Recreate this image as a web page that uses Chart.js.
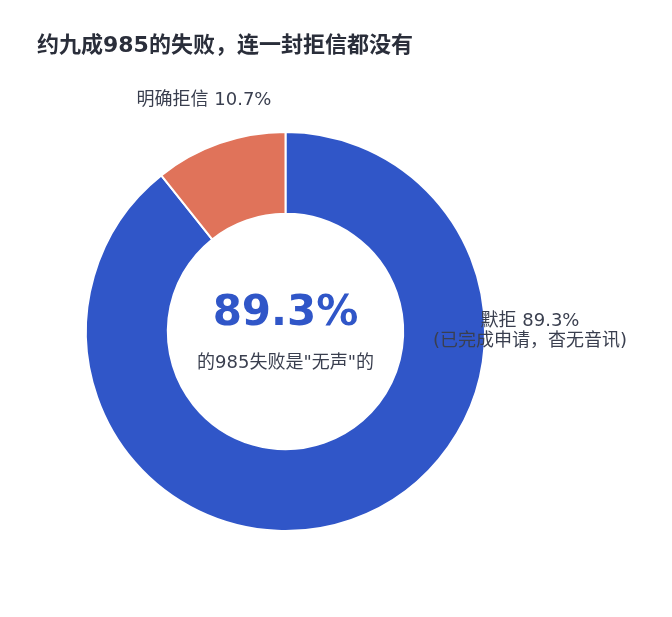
<!DOCTYPE html>
<html>
<head>
<meta charset="utf-8">
<script src="https://cdn.jsdelivr.net/npm/chart.js@4"></script>
<style>
  html, body { margin: 0; padding: 0; background: #ffffff; }
  #wrap { width: 672px; height: 617px; }
</style>
</head>
<body>
<div id="wrap"><canvas id="c" width="672" height="617"></canvas></div>
<script>
const chartTitle = '约九成985的失败，连一封拒信都没有';
const categories = ['默拒', '明确拒信'];
const shares = [89.3, 10.7];
const notes = ['(已完成申请，杳无音讯)', ''];
const sliceColors = ['#3056C8', '#E0735A'];
const centerCaption = '的985失败是"无声"的';

const FONT = '"DejaVu Sans", "Noto Sans CJK SC", sans-serif';

const textPlugin = {
  id: 'textLayer',
  afterDraw(chart) {
    const ctx = chart.ctx;
    const arc = chart.getDatasetMeta(0).data[0];
    const cx = arc.x, cy = arc.y;
    ctx.save();

    // title
    ctx.fillStyle = '#2a2e3a';
    ctx.font = 'bold 22px ' + FONT;
    ctx.textAlign = 'left';
    ctx.textBaseline = 'middle';
    ctx.fillText(chartTitle, 37, 46);

    // centre figure
    ctx.textAlign = 'center';
    ctx.fillStyle = sliceColors[0];
    ctx.font = 'bold 42px ' + FONT;
    ctx.fillText(shares[0].toFixed(1) + '%', cx, cy - 17);
    ctx.fillStyle = '#3a3f4f';
    ctx.font = '18px ' + FONT;
    ctx.fillText(centerCaption, cx, cy + 32);

    // outside labels
    ctx.fillStyle = '#3a3f4f';
    ctx.font = '18px ' + FONT;
    ctx.textAlign = 'center';
    ctx.fillText(categories[0] + ' ' + shares[0].toFixed(1) + '%', 530, 321);
    ctx.fillText(notes[0], 530, 341);
    ctx.fillText(categories[1] + ' ' + shares[1].toFixed(1) + '%', 204, 100);

    ctx.restore();
  }
};

new Chart(document.getElementById('c'), {
  type: 'doughnut',
  data: {
    labels: categories,
    datasets: [{
      data: shares,
      backgroundColor: sliceColors,
      borderColor: '#ffffff',
      borderWidth: 2,
      hoverOffset: 0
    }]
  },
  options: {
    responsive: false,
    animation: false,
    cutout: '59%',
    layout: { padding: { left: 85, top: 131, right: 186, bottom: 85 } },
    plugins: {
      legend: { display: false },
      tooltip: { enabled: false },
      title: { display: false }
    }
  },
  plugins: [textPlugin]
});
</script>
</body>
</html>
